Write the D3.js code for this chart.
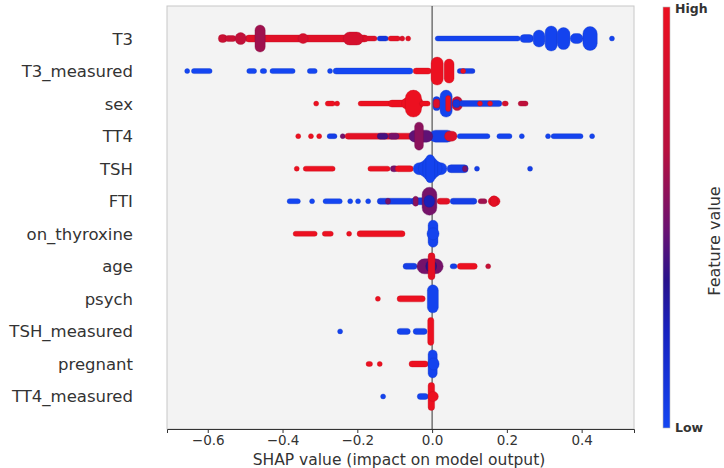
<!DOCTYPE html>
<html>
<head>
<meta charset="utf-8">
<script src="https://cdn.jsdelivr.net/npm/d3@7"></script>
<style>
  body { margin: 0; background: #fff; }
  text { font-family: "DejaVu Sans", sans-serif; fill: #333; }
</style>
</head>
<body>
<svg width="724" height="468"></svg>
<script>
// Features, most important first
const features = ["T3", "T3_measured", "sex", "TT4", "TSH", "FTI", "on_thyroxine",
                  "age", "psych", "TSH_measured", "pregnant", "TT4_measured"];
const xTicks = [-0.6, -0.4, -0.2, 0.0, 0.2, 0.4];

// Swarm clusters per feature: [shap from, shap to, stacked points, feature value 0..1]
const t3 = [
  [-0.493, -0.178, 3, 0.92], [-0.565, -0.555, 4, 0.78], [-0.547, -0.531, 2, 0.78],
  [-0.520, -0.504, 8, 0.72], [-0.352, -0.338, 6, 0.85], [-0.231, -0.191, 9, 0.85],
  [-0.467, -0.453, 23, 0.6], [-0.178, -0.154, 1, 0.9], [-0.140, -0.124, 1, 0.1],
  [-0.111, -0.092, 1, 0.95], [-0.080, -0.080, 1, 0.9], [-0.064, -0.064, 1, 0.95],
  [0.015, 0.229, 1, 0.02], [0.242, 0.264, 4, 0.02], [0.277, 0.295, 13, 0.02],
  [0.309, 0.328, 21, 0.02], [0.341, 0.362, 18, 0.02], [0.376, 0.397, 6, 0.02],
  [0.410, 0.435, 20, 0.02], [0.481, 0.481, 1, 0.02]
];
const t3Measured = [
  [-0.655, -0.655, 1, 0], [-0.637, -0.595, 1, 0], [-0.489, -0.476, 1, 0],
  [-0.453, -0.449, 1, 0], [-0.427, -0.373, 1, 0], [-0.327, -0.314, 1, 0],
  [-0.273, -0.273, 1, 0], [-0.258, -0.058, 2, 0], [-0.044, -0.009, 2, 1],
  [0.004, 0.023, 24, 1], [0.039, 0.052, 20, 1], [0.074, 0.108, 1, 0.05],
  [0.083, 0.083, 1, 1]
];
const sex = [
  [-0.310, -0.310, 1, 1], [-0.279, -0.266, 1, 1], [-0.254, -0.254, 1, 1],
  [-0.191, -0.079, 1, 1], [-0.110, -0.070, 3, 1], [-0.075, -0.030, 8, 1],
  [-0.065, -0.035, 23, 1], [-0.027, -0.012, 1, 1],
  [0.009, 0.015, 10, 0.05], [0.010, 0.014, 5, 0.9], [0.028, 0.047, 23, 0.02],
  [0.043, 0.043, 12, 1], [0.060, 0.074, 10, 0.75], [0.062, 0.068, 4, 0.1],
  [0.080, 0.180, 2, 0.05], [0.128, 0.128, 1, 1], [0.155, 0.155, 1, 1],
  [0.194, 0.197, 1, 0.85], [0.237, 0.250, 1, 0.7]
];
const tt4 = [
  [-0.358, -0.358, 1, 1], [-0.324, -0.324, 1, 1], [-0.302, -0.302, 1, 1],
  [-0.274, -0.261, 1, 0.05], [-0.239, -0.239, 1, 0.5], [-0.226, -0.058, 2, 0.95],
  [-0.140, -0.125, 2, 0.4], [-0.110, -0.095, 2, 0.5],
  [0.000, 0.050, 8, 0.05], [-0.055, -0.005, 8, 0.45], [-0.040, -0.030, 24, 0.55],
  [0.040, 0.060, 6, 0.9], [0.074, 0.148, 1, 0.02], [0.180, 0.207, 1, 0.02],
  [0.240, 0.240, 1, 0.02], [0.310, 0.310, 1, 0.02], [0.325, 0.397, 1, 0.02],
  [0.428, 0.428, 1, 0.02]
];
const tsh = [
  [-0.362, -0.362, 1, 1], [-0.338, -0.266, 1, 1], [-0.165, -0.119, 1, 1],
  [-0.105, -0.098, 2, 0.5], [-0.092, -0.057, 2, 1],
  [-0.044, 0.033, 8, 0.02], [-0.030, 0.020, 14, 0.02], [-0.018, 0.008, 20, 0.02],
  [-0.010, 0.000, 24, 0.02], [0.047, 0.090, 4, 0.05], [0.088, 0.088, 2, 0.5],
  [0.120, 0.120, 1, 0.05], [0.262, 0.262, 1, 0.05]
];
const fti = [
  [-0.381, -0.359, 1, 0], [-0.321, -0.321, 1, 0], [-0.285, -0.247, 1, 0],
  [-0.219, -0.219, 1, 0], [-0.198, -0.198, 1, 0], [-0.171, -0.171, 1, 0],
  [-0.140, -0.058, 2, 0.05], [-0.118, -0.118, 2, 0.5], [-0.050, -0.020, 3, 0.1],
  [-0.044, -0.044, 6, 0.55], [0.020, 0.041, 2, 0.95], [0.055, 0.113, 2, 0.05],
  [-0.020, 0.006, 24, 0.5], [-0.015, 0.000, 8, 0.25],
  [0.130, 0.140, 1, 0.6], [0.157, 0.175, 5, 0.95], [0.163, 0.168, 7, 0.95]
];
const onThyroxine = [
  [-0.365, -0.314, 1, 1], [-0.287, -0.271, 1, 1], [-0.222, -0.222, 1, 1],
  [-0.194, -0.079, 2, 1], [-0.004, 0.009, 23, 0.02], [-0.007, 0.012, 8, 0.02]
];
const age = [
  [-0.071, -0.047, 2, 0.05], [-0.034, 0.023, 11, 0.5], [-0.010, 0.005, 8, 0.35],
  [-0.004, 0.001, 23, 0.95], [0.055, 0.060, 1, 0.05], [0.074, 0.114, 2, 1],
  [0.150, 0.150, 1, 0.75]
];
const psych = [
  [-0.145, -0.145, 1, 1], [-0.087, -0.025, 2, 1], [-0.006, 0.010, 24, 0.02]
];
const tshMeasured = [
  [-0.246, -0.246, 1, 0.02], [-0.087, -0.065, 2, 0.02], [-0.044, -0.020, 2, 0.02],
  [-0.005, -0.002, 24, 1]
];
const pregnant = [
  [-0.170, -0.166, 1, 1], [-0.140, -0.140, 1, 1], [-0.055, -0.017, 2, 1],
  [-0.004, 0.007, 24, 0.02], [-0.004, 0.012, 8, 0.02]
];
const tt4Measured = [
  [-0.131, -0.131, 1, 0.02], [-0.033, -0.017, 2, 0.02],
  [-0.004, 0.000, 24, 1], [-0.004, 0.010, 6, 1]
];
const swarms = [t3, t3Measured, sex, tt4, tsh, fti, onThyroxine, age, psych,
                tshMeasured, pregnant, tt4Measured];

const svg = d3.select("svg");
const plotLeft = 167, plotRight = 634, plotTop = 6, plotBottom = 429;
const dotR = 2.5;

const x = d3.scaleLinear().domain([-0.709, 0.540]).range([plotLeft, plotRight]);
const y = d3.scaleLinear().domain([-1, features.length]).range([plotBottom, plotTop]);
const rowY = i => y(features.length - 1 - i);
// stacked point count -> band thickness
const thick = d3.scaleLinear().domain([1, 25]).range([5, 29]);

const colorStops = [0, 0.23, 0.35, 0.47, 0.66, 1];
const colorVals = ["#1446f2", "#1722c0", "#28128c", "#6a1272", "#b8103e", "#ec1020"];
const color = d3.scaleLinear().domain(colorStops).range(colorVals);

// plot frame
svg.append("rect")
    .attr("x", plotLeft).attr("y", plotTop)
    .attr("width", plotRight - plotLeft).attr("height", plotBottom - plotTop)
    .attr("fill", "#f3f3f3").attr("stroke", "#c8c8c8");

// zero line
svg.append("line")
    .attr("x1", x(0)).attr("x2", x(0))
    .attr("y1", plotTop).attr("y2", plotBottom)
    .attr("stroke", "#333").attr("stroke-width", 1);

// swarms
swarms.forEach((rows, i) => {
    svg.append("g")
        .selectAll("rect")
        .data(rows)
        .enter().append("rect")
        .each(function(d) {
            const w = x(d[1]) - x(d[0]) + 2 * dotR;
            const h = thick(d[2]);
            const c = color(d[3]);
            d3.select(this)
                .attr("x", x(d[0]) - dotR)
                .attr("y", rowY(i) - h / 2)
                .attr("width", w).attr("height", h)
                .attr("rx", Math.min(w, h) / 2)
                .attr("fill", c)
                .attr("stroke", d3.color(c).darker(0.5))
                .attr("stroke-width", 0.6)
                .attr("stroke-opacity", 0.6);
        });
});

// feature labels
svg.append("g")
    .selectAll("text")
    .data(features)
    .enter().append("text")
    .attr("x", 133)
    .attr("y", (d, i) => rowY(i) + 6)
    .attr("text-anchor", "end")
    .style("font-size", "16.5px")
    .text(d => d);

// x axis
const axis = svg.append("g")
    .attr("transform", `translate(0,${plotBottom})`)
    .call(d3.axisBottom(x).tickValues(xTicks).tickFormat(d3.format(".1f"))
        .tickSize(4).tickPadding(2));
axis.select(".domain").attr("stroke", "#333");
axis.selectAll(".tick line").attr("stroke", "#333");
axis.selectAll(".tick text")
    .style("font-family", "DejaVu Sans, sans-serif")
    .style("font-size", "13.5px").attr("fill", "#333");

svg.append("text")
    .attr("x", (plotLeft + plotRight) / 2 - 1.5)
    .attr("y", 465)
    .attr("text-anchor", "middle")
    .style("font-size", "15.5px")
    .text("SHAP value (impact on model output)");

// colour bar
const grad = svg.append("defs").append("linearGradient")
    .attr("id", "cbar").attr("x1", 0).attr("x2", 0).attr("y1", 1).attr("y2", 0);
grad.selectAll("stop")
    .data(colorStops)
    .enter().append("stop")
    .attr("offset", d => d)
    .attr("stop-color", d => color(d));

svg.append("rect")
    .attr("x", 663).attr("y", 7)
    .attr("width", 7).attr("height", 421)
    .attr("fill", "url(#cbar)")
    .attr("stroke", "#bbb").attr("stroke-width", 0.6);

svg.append("text").attr("x", 675).attr("y", 12.5)
    .style("font-size", "12.5px").style("font-weight", "bold").text("High");
svg.append("text").attr("x", 675).attr("y", 432)
    .style("font-size", "12.5px").style("font-weight", "bold").text("Low");
svg.append("text")
    .attr("transform", "translate(720,241) rotate(-90)")
    .attr("text-anchor", "middle")
    .style("font-size", "16px")
    .text("Feature value");
</script>
</body>
</html>
